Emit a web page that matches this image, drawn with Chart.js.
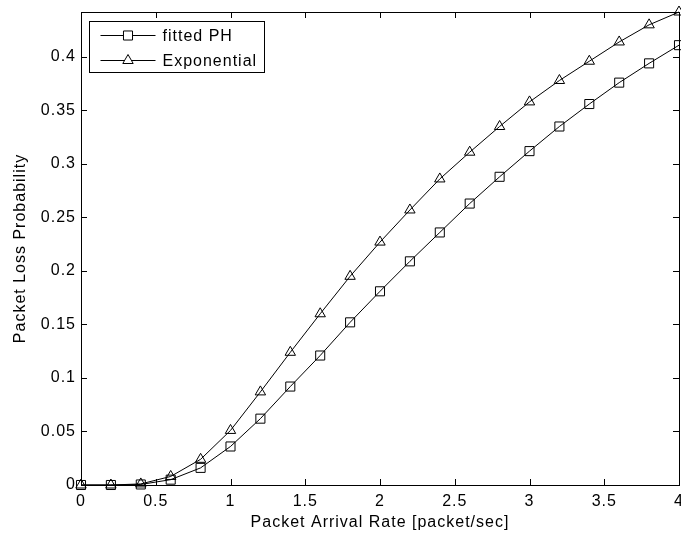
<!DOCTYPE html>
<html lang="en">
  <head>
    <meta charset="UTF-8" />
    <title>Packet Loss Probability</title>
    <script src="https://cdn.jsdelivr.net/npm/chart.js"></script>
    <style>
      body {
        margin: 0;
        background: #ffffff;
      }
      #wrap {
        width: 681px;
        height: 540px;
      }
    </style>
  </head>
  <body>
    <div id="wrap"><canvas id="lossChart"></canvas></div>

    <script>
      // arrival rate samples (packet/sec)
      const arrivalRates = [
        0, 0.2, 0.4, 0.6, 0.8, 1, 1.2, 1.4, 1.6, 1.8, 2, 2.2, 2.4, 2.6, 2.8, 3,
        3.2, 3.4, 3.6, 3.8, 4,
      ];
      const fittedPH = [
        0, 0, 0.0005, 0.005, 0.016, 0.036, 0.062, 0.092, 0.121, 0.152, 0.181,
        0.209, 0.236, 0.263, 0.288, 0.312, 0.335, 0.356, 0.376, 0.394, 0.411,
      ];
      const exponential = [
        0, 0, 0.001, 0.008, 0.024, 0.051, 0.087, 0.124, 0.16, 0.195, 0.227,
        0.257, 0.286, 0.311, 0.335, 0.358, 0.378, 0.396, 0.414, 0.43, 0.442,
      ];
      const seriesNames = ["fitted PH", "Exponential"];
      const xTicks = [0, 0.5, 1, 1.5, 2, 2.5, 3, 3.5, 4];
      const yTicks = [0, 0.05, 0.1, 0.15, 0.2, 0.25, 0.3, 0.35, 0.4];

      const labelFont = { family: "'Liberation Sans', Arial, sans-serif", size: 16 };

      function toPoints(ys) {
        return arrivalRates.map((x, i) => ({ x: x, y: ys[i] }));
      }

      // matlab-ish box with inward ticks, plus the boxed legend
      const matlabAxes = {
        id: "matlabAxes",
        beforeUpdate(chart) {
          chart.ctx.letterSpacing = "1px";
        },
        beforeDraw(chart) {
          chart.ctx.letterSpacing = "1px";
        },
        beforeDatasetsDraw(chart) {
          const { ctx, chartArea: a, scales } = chart;
          const len = 6;
          ctx.save();
          ctx.strokeStyle = "#000";
          ctx.lineWidth = 1;
          ctx.strokeRect(a.left + 0.5, a.top + 0.5, a.right - a.left, a.bottom - a.top);
          ctx.beginPath();
          xTicks.forEach((v) => {
            const px = Math.round(scales.x.getPixelForValue(v)) + 0.5;
            ctx.moveTo(px, a.bottom);
            ctx.lineTo(px, a.bottom - len);
            ctx.moveTo(px, a.top);
            ctx.lineTo(px, a.top + len);
          });
          yTicks.forEach((v) => {
            const py = Math.round(scales.y.getPixelForValue(v)) + 0.5;
            ctx.moveTo(a.left, py);
            ctx.lineTo(a.left + len, py);
            ctx.moveTo(a.right, py);
            ctx.lineTo(a.right - len, py);
          });
          ctx.stroke();
          ctx.restore();
        },
        afterDraw(chart) {
          const { ctx, chartArea: a } = chart;
          const left = a.left + 8.5;
          const top = a.top + 9.5;
          ctx.save();
          ctx.letterSpacing = "1px";
          ctx.fillStyle = "#fff";
          ctx.fillRect(left, top, 175, 51);
          ctx.strokeStyle = "#000";
          ctx.lineWidth = 1;
          ctx.strokeRect(left, top, 175, 51);
          ctx.font = "16px 'Liberation Sans', Arial, sans-serif";
          ctx.textBaseline = "middle";
          chart.data.datasets.forEach((ds, i) => {
            const cy = Math.round(top + 13 + i * 25) + 0.5;
            ctx.beginPath();
            ctx.moveTo(left + 11, cy);
            ctx.lineTo(left + 66, cy);
            ctx.stroke();
            ctx.fillStyle = "#fff";
            Chart.helpers.drawPoint(
              ctx,
              { pointStyle: ds.pointStyle, radius: ds.pointRadius, borderWidth: 1 },
              left + 38.5,
              cy
            );
            ctx.fillStyle = "#000";
            ctx.fillText(ds.label, left + 73, cy + 1);
          });
          ctx.restore();
        },
      };

      const ctx = document.getElementById("lossChart").getContext("2d");
      const chart = new Chart(ctx, {
        type: "line",
        data: {
          datasets: [
            {
              label: seriesNames[0],
              data: toPoints(fittedPH),
              borderColor: "#000",
              backgroundColor: "rgba(0,0,0,0)",
              borderWidth: 1,
              pointStyle: "rect",
              pointRadius: 6.4,
              pointBorderWidth: 1,
              pointBorderColor: "#000",
              pointBackgroundColor: "rgba(0,0,0,0)",
              tension: 0,
              clip: false,
            },
            {
              label: seriesNames[1],
              data: toPoints(exponential),
              borderColor: "#000",
              backgroundColor: "rgba(0,0,0,0)",
              borderWidth: 1,
              pointStyle: "triangle",
              pointRadius: 6,
              pointBorderWidth: 1,
              pointBorderColor: "#000",
              pointBackgroundColor: "rgba(0,0,0,0)",
              tension: 0,
              clip: false,
            },
          ],
        },
        options: {
          responsive: true,
          maintainAspectRatio: false,
          animation: false,
          layout: {
            autoPadding: false,
            padding: { top: 12, right: 2, left: 0, bottom: 0 },
          },
          plugins: {
            legend: { display: false },
            tooltip: { enabled: false },
          },
          scales: {
            x: {
              type: "linear",
              min: 0,
              max: 4,
              afterBuildTicks: (s) => {
                s.ticks = xTicks.map((v) => ({ value: v }));
              },
              afterFit: (s) => {
                s.height = 55;
                s.paddingLeft = 0;
                s.paddingRight = 0;
              },
              grid: { display: false, drawTicks: false },
              border: { display: false },
              ticks: {
                padding: 7,
                color: "#000",
                font: labelFont,
                maxRotation: 0,
                autoSkip: false,
                callback: (v) => String(v),
              },
              title: {
                display: true,
                text: "Packet Arrival Rate [packet/sec]",
                color: "#000",
                font: labelFont,
                padding: { top: 0, bottom: 8 },
              },
            },
            y: {
              type: "linear",
              min: 0,
              max: 0.442,
              afterBuildTicks: (s) => {
                s.ticks = yTicks.map((v) => ({ value: v }));
              },
              afterFit: (s) => {
                s.width = 81;
                s.paddingTop = 0;
                s.paddingBottom = 0;
              },
              grid: { display: false, drawTicks: false },
              border: { display: false },
              ticks: {
                padding: 5,
                color: "#000",
                font: labelFont,
                autoSkip: false,
                callback: (v) => String(+v.toFixed(2)),
              },
              title: {
                display: true,
                text: "Packet Loss Probability",
                color: "#000",
                font: labelFont,
                padding: { top: 11, bottom: 0 },
              },
            },
          },
        },
        plugins: [matlabAxes],
      });
    </script>
  </body>
</html>
